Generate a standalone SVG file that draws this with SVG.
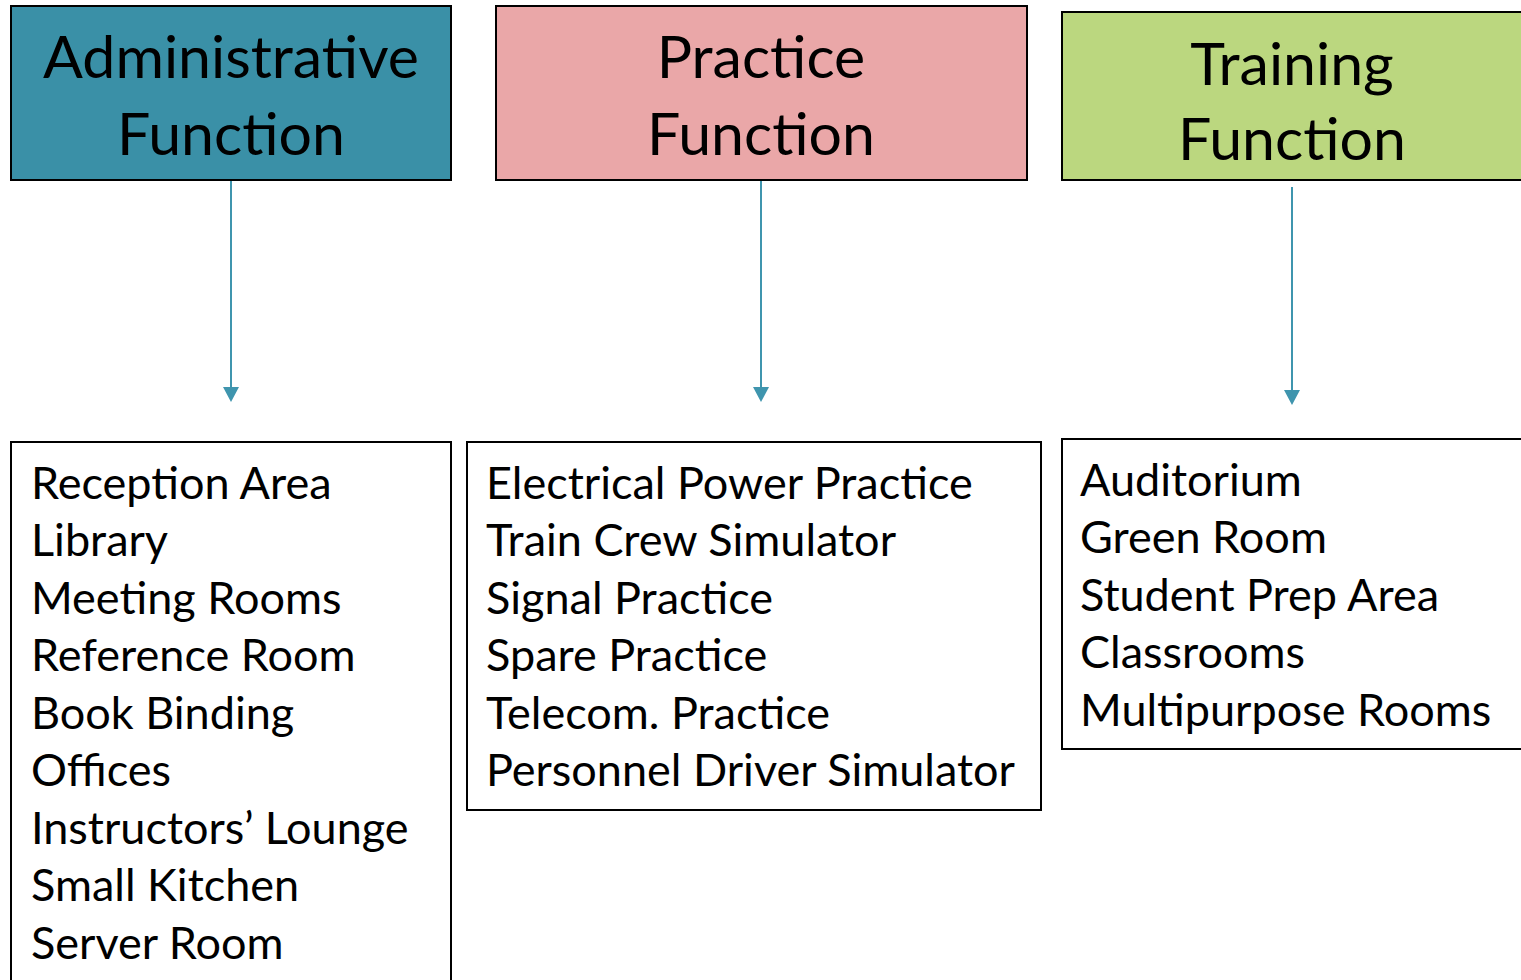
<svg xmlns="http://www.w3.org/2000/svg" width="1521" height="980" viewBox="0 0 1521 980">
<style>
.hdr{stroke:#000;stroke-width:2}
.list{fill:#fff;stroke:#000;stroke-width:2}
.ht{font-family:Lato,"Liberation Sans",sans-serif;font-size:59px;fill:#000;text-anchor:middle}
.lt{font-family:Lato,"Liberation Sans",sans-serif;font-size:45px;fill:#000}
.conn{stroke:#3F95AE;stroke-width:2;fill:none}
</style>
<defs>
<marker id="ah" markerWidth="15" markerHeight="16" refX="0" refY="8" orient="auto" markerUnits="userSpaceOnUse" viewBox="0 0 15 16">
<path d="M0,0 L15,8 L0,16 Z" fill="#3F95AE"/>
</marker>
</defs>
<rect width="1521" height="980" fill="#fff"/>
<g id="admin">
<rect class="hdr" x="11" y="6" width="440" height="174" fill="#3A90A7"/>
<text class="ht" x="231" y="78">Administrative</text>
<text class="ht" x="231" y="155">Function</text>
</g>
<g id="practice">
<rect class="hdr" x="496" y="6" width="531" height="174" fill="#EAA7A8"/>
<text class="ht" x="761" y="78">Practice</text>
<text class="ht" x="761" y="155">Function</text>
</g>
<g id="training">
<rect class="hdr" x="1062" y="12" width="470" height="168" fill="#BBD77F"/>
<text class="ht" x="1292" y="85">Training</text>
<text class="ht" x="1292" y="160">Function</text>
</g>
<g id="connectors">
<path class="conn" d="M231,181 V387" marker-end="url(#ah)"/>
<path class="conn" d="M761,181 V387" marker-end="url(#ah)"/>
<path class="conn" d="M1292,187 V390" marker-end="url(#ah)"/>
</g>
<g id="admin-list">
<rect class="list" x="11" y="442" width="440" height="560"/>
<text class="lt" x="31" y="499">Reception Area</text>
<text class="lt" x="31" y="556">Library</text>
<text class="lt" x="31" y="614">Meeting Rooms</text>
<text class="lt" x="31" y="671">Reference Room</text>
<text class="lt" x="31" y="729">Book Binding</text>
<text class="lt" x="31" y="786">Offices</text>
<text class="lt" x="31" y="844">Instructors’ Lounge</text>
<text class="lt" x="31" y="901">Small Kitchen</text>
<text class="lt" x="31" y="959">Server Room</text>
</g>
<g id="practice-list">
<rect class="list" x="467" y="442" width="574" height="368"/>
<text class="lt" x="486" y="499">Electrical Power Practice</text>
<text class="lt" x="486" y="556">Train Crew Simulator</text>
<text class="lt" x="486" y="614">Signal Practice</text>
<text class="lt" x="486" y="671">Spare Practice</text>
<text class="lt" x="486" y="729">Telecom. Practice</text>
<text class="lt" x="486" y="786">Personnel Driver Simulator</text>
</g>
<g id="training-list">
<rect class="list" x="1062" y="439" width="470" height="310"/>
<text class="lt" x="1080" y="496">Auditorium</text>
<text class="lt" x="1080" y="553">Green Room</text>
<text class="lt" x="1080" y="611">Student Prep Area</text>
<text class="lt" x="1080" y="668">Classrooms</text>
<text class="lt" x="1080" y="726">Multipurpose Rooms</text>
</g>
</svg>
